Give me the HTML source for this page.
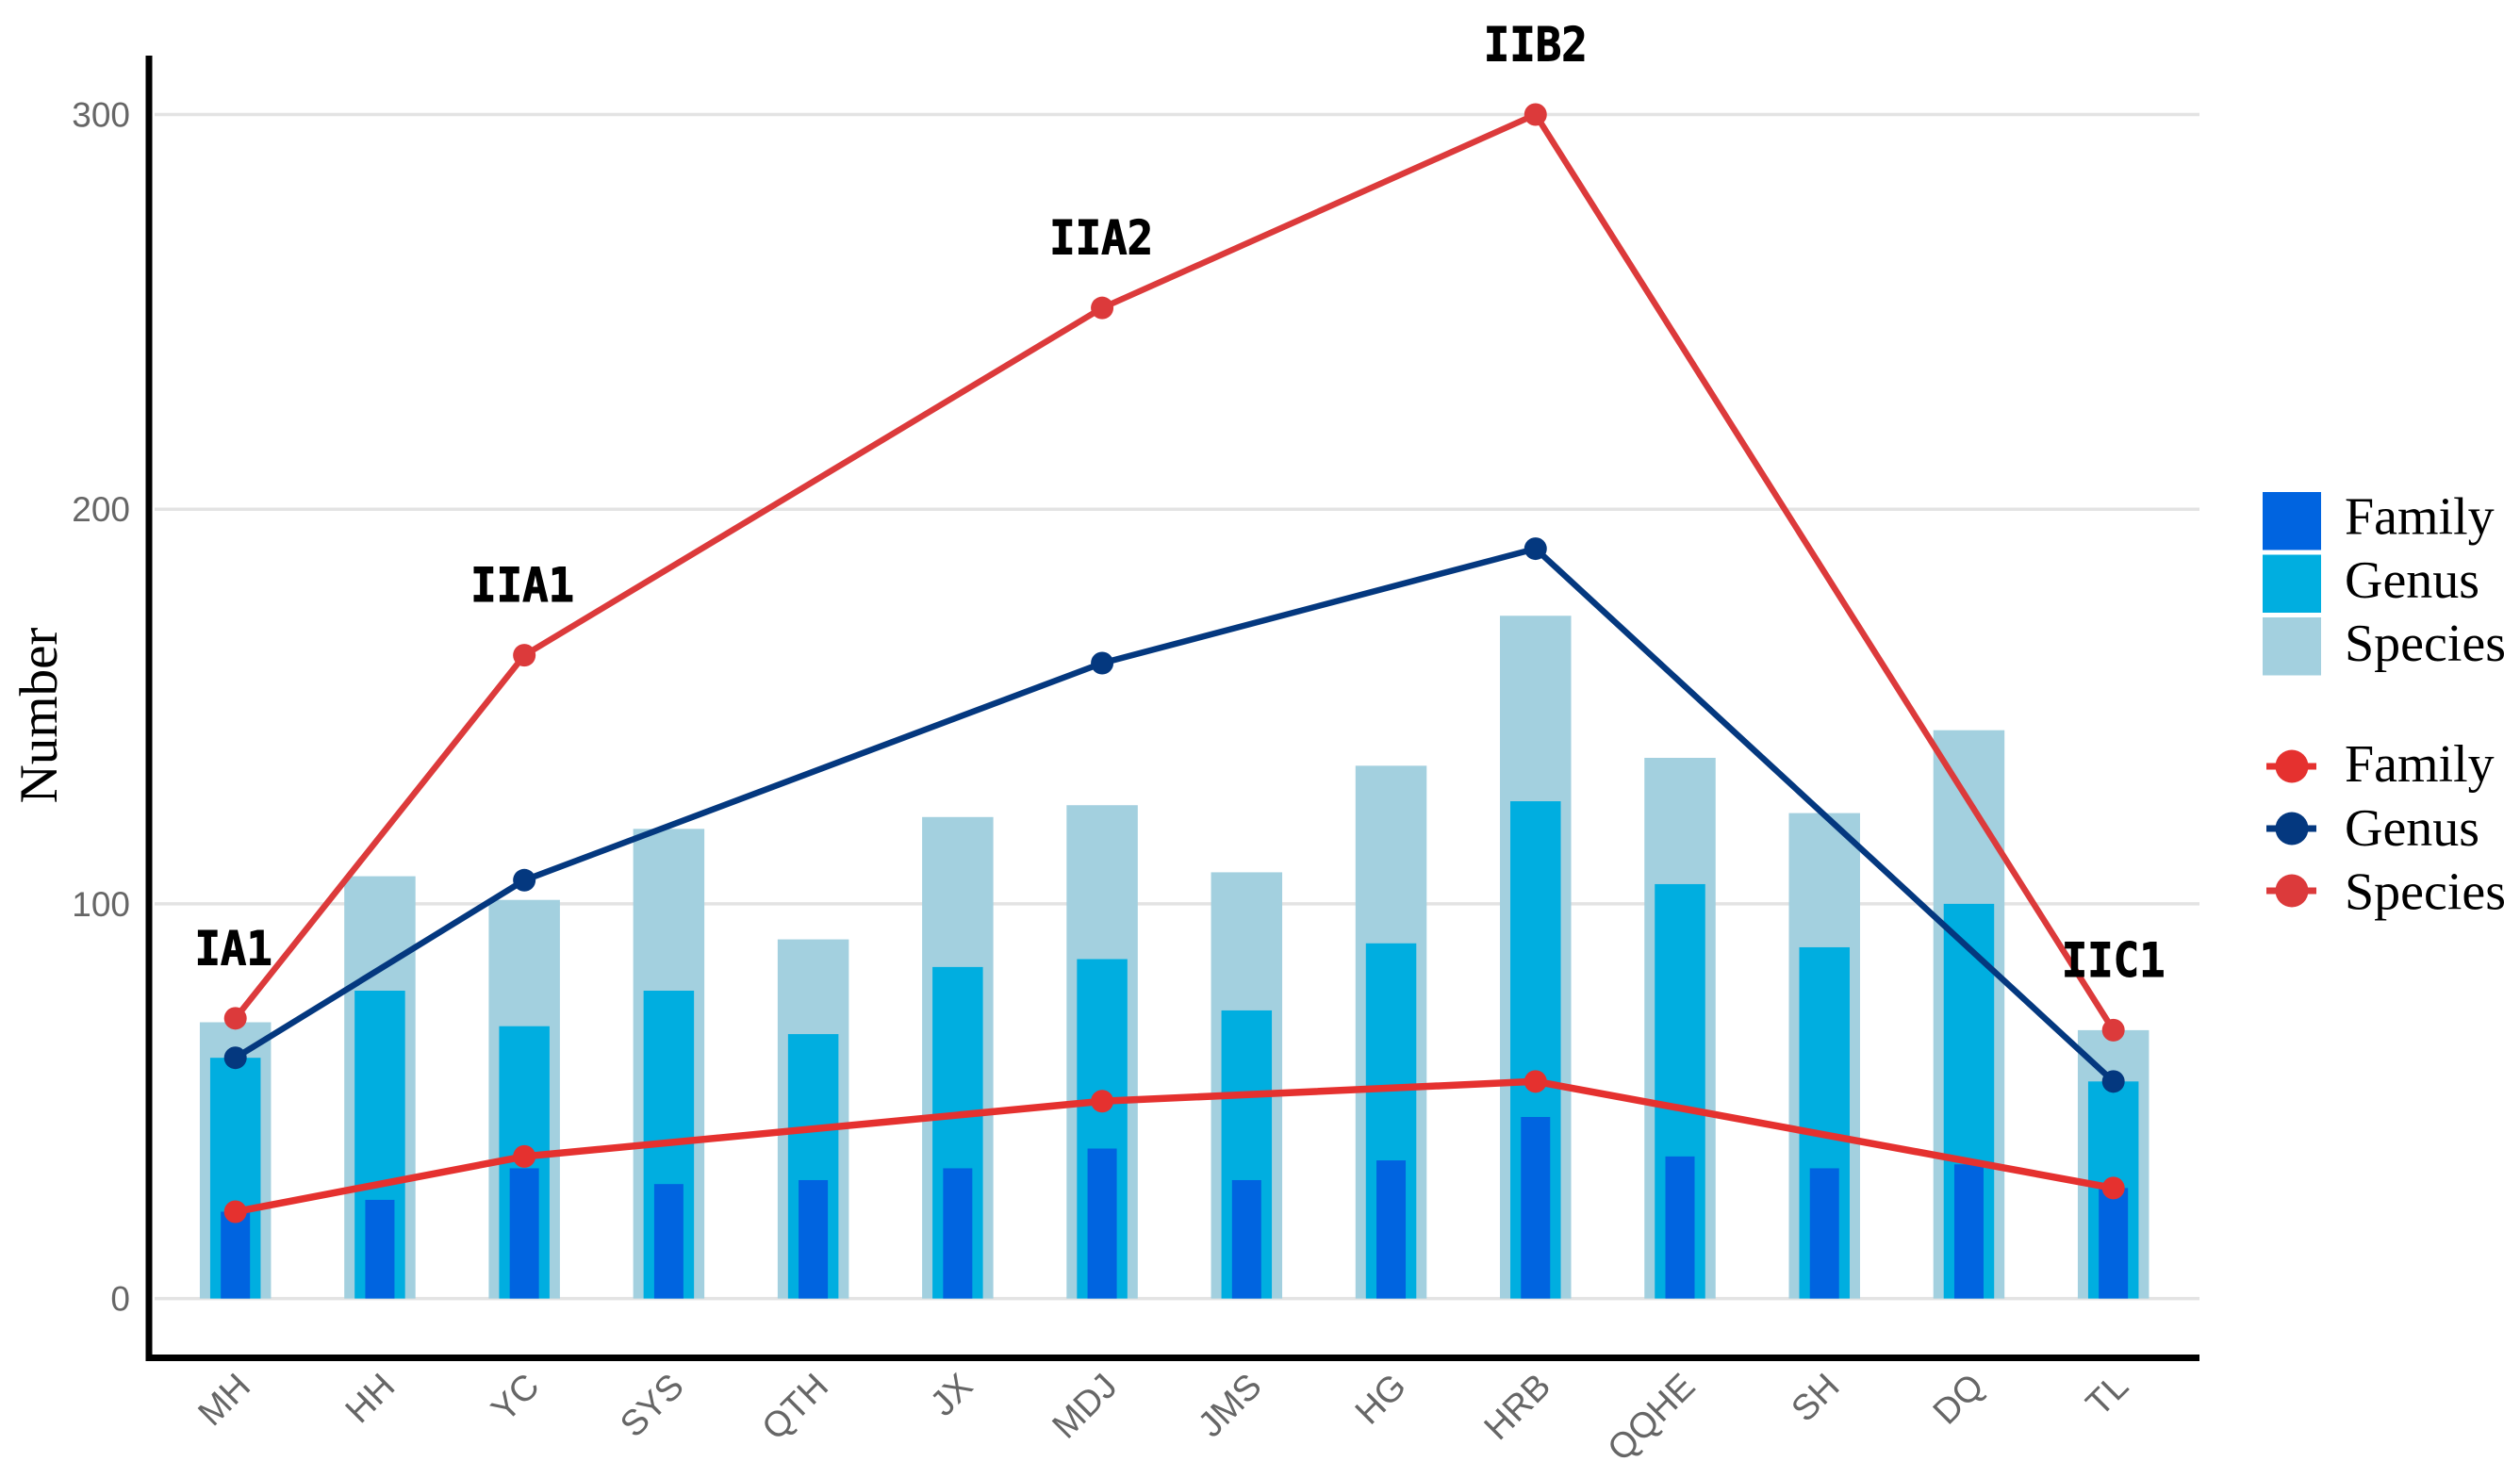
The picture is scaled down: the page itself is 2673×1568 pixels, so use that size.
<!DOCTYPE html>
<html lang="en">
<head>
<meta charset="utf-8">
<title>Number of families, genera and species by site</title>
<style>
html,body{margin:0;padding:0;background:#fff;width:2673px;height:1568px;overflow:hidden}
svg{display:block}
</style>
</head>
<body>
<svg id="chart" xmlns="http://www.w3.org/2000/svg" width="2673" height="1568" viewBox="0 0 2673 1568">
<rect x="0" y="0" width="2673" height="1568" fill="#ffffff"/>
<g id="grid"></g>
<g id="bars"></g>
<g id="lines"></g>
<g id="annotations"></g>
<g id="axes"></g>
<g id="legend"></g>
</svg>
<script>
const categories = ['MH','HH','YC','SYS','QTH','JX','MDJ','JMS','HG','HRB','QQHE','SH','DQ','TL'];
const speciesBars = [70,107,101,119,91,122,125,108,135,173,137,123,144,68];
const genusBars = [61,78,69,78,67,84,86,73,90,126,105,89,100,55];
const familyBars = [22,25,33,29,30,33,38,30,35,46,36,33,34,28];
const lineCategories = ['MH','YC','MDJ','HRB','TL'];
const speciesLine = [71,163,251,300,68];
const genusLine = [61,106,161,190,55];
const familyLine = [22,36,50,55,28];
const annotationLabels = ['IA1','IIA1','IIA2','IIB2','IIC1'];
const yTicks = [0,100,200,300];

const NS = 'http://www.w3.org/2000/svg';
const x0 = 249.7, xStep = 153.23, y0 = 1377.6, yScale = 4.187;
function xPos(cat){ return x0 + categories.indexOf(cat) * xStep; }
function yPos(v){ return y0 - v * yScale; }
function make(parent, tag, attrs, text){
  const el = document.createElementNS(NS, tag);
  for (const k in attrs) el.setAttribute(k, attrs[k]);
  if (text !== undefined) el.textContent = text;
  document.getElementById(parent).appendChild(el);
  return el;
}
const SANS = '"Liberation Sans", sans-serif';
const SERIF = '"Liberation Serif", serif';

/* gridlines and y ticks */
yTicks.forEach(function(t){
  const g = make('grid','line',{x1:164,x2:2333,y1:yPos(t),y2:yPos(t),stroke:'#e3e3e3','stroke-width':3.5});
  
  
  const l = make('axes','text',{x:138,y:yPos(t)+13,'text-anchor':'end','font-family':SANS,'font-size':37,fill:'#666666'},String(t));
  
  
});

/* bars */
function drawBars(values, width, color, series){
  values.forEach(function(v,i){
    const c = categories[i];
    const b = make('bars','rect',{x:xPos(c)-width/2,y:yPos(v),width:width,height:v*yScale,fill:color});
    
    
  });
}
drawBars(speciesBars, 75.5, '#a3d0df', 'species');
drawBars(genusBars, 53.5, '#00aee0', 'genus');
drawBars(familyBars, 31, '#0064e0', 'family');

/* lines */
function drawLine(values, color, width, series){
  const pts = values.map(function(v,i){ return xPos(lineCategories[i]).toFixed(1) + ',' + yPos(v).toFixed(1); }).join(' ');
  const p = make('lines','polyline',{points:pts,fill:'none',stroke:color,'stroke-width':width,'stroke-linejoin':'round'});
  
  
  values.forEach(function(v,i){
    const c = make('lines','circle',{cx:xPos(lineCategories[i]),cy:yPos(v),r:12,fill:color});
    
    
  });
}
drawLine(speciesLine, '#dc3a3b', 6.5, 'species');
drawLine(genusLine, '#04387f', 6.5, 'genus');
drawLine(familyLine, '#e5312f', 7.5, 'family');

/* annotations above the species line */
annotationLabels.forEach(function(t,i){
  const xOff = [-2,-2,-1,0,0][i];
  const a = make('annotations','text',{x:xPos(lineCategories[i])+xOff,y:yPos(speciesLine[i])-57,'text-anchor':'middle','font-family':'"DejaVu Sans Mono", monospace','font-weight':'bold','font-size':50,fill:'#000000',stroke:'#000000','stroke-width':1,textLength:t.length*27.5,lengthAdjust:'spacingAndGlyphs'},t);
  
  
});

/* x labels */
categories.forEach(function(c){
  const x = xPos(c) + 18, y = 1473;
  const l = make('axes','text',{x:x,y:y,'text-anchor':'end','font-family':SANS,'font-size':38,fill:'#666666',transform:'rotate(-45 '+x+' '+y+')'},c);
  
  
});

/* axes lines */
const yAxis = make('axes','line',{x1:158,x2:158,y1:59,y2:1444,stroke:'#000000','stroke-width':7});


const xAxis = make('axes','line',{x1:155,x2:2333,y1:1440.5,y2:1440.5,stroke:'#000000','stroke-width':7});


const yTitle = make('axes','text',{x:60,y:759,'text-anchor':'middle','font-family':SERIF,'font-size':57,fill:'#000000',transform:'rotate(-90 60 759)'},'Number');



/* legend */
const legendBarNames = ['Family','Genus','Species'];
const legendBarColors = ['#0064e0','#00aee0','#a3d0df'];
const legendLineColors = ['#e5312f','#04387f','#dc3a3b'];
legendBarNames.forEach(function(n,i){
  const s = make('legend','rect',{x:2400,y:522+i*66.5,width:62,height:61.5,fill:legendBarColors[i]});
  
  
  const t = make('legend','text',{x:2487,y:566.5+i*67.3,'font-family':SERIF,'font-size':56,fill:'#000000'},n);
  
  
  const cy = 813 + i*66;
  const ln = make('legend','line',{x1:2404,x2:2457,y1:cy,y2:cy,stroke:legendLineColors[i],'stroke-width':7});
  
  
  const m = make('legend','circle',{cx:2431,cy:cy,r:17.5,fill:legendLineColors[i]});
  
  
  const t2 = make('legend','text',{x:2487,y:829+i*67.8,'font-family':SERIF,'font-size':56,fill:'#000000'},n);
  
  
});
</script>
</body>
</html>
